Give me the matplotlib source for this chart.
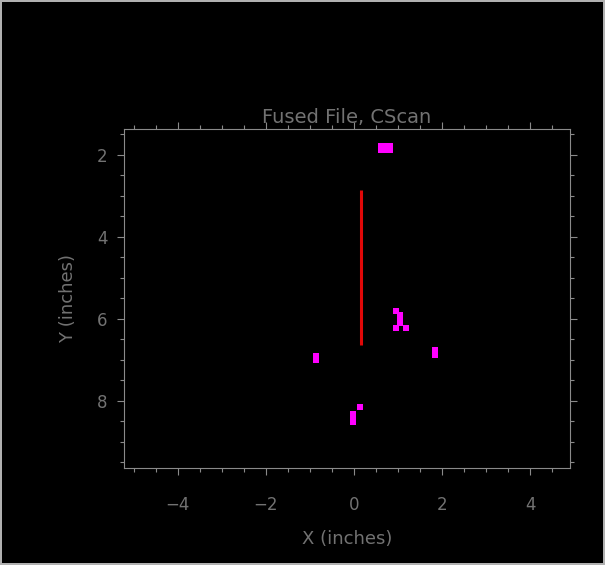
import matplotlib.pyplot as plt
from matplotlib.ticker import MultipleLocator

# C-scan indications (cell centres, inches)
blob_x = [0.62, 0.72, 0.82, 0.62, 0.72, 0.82,
          0.95, 1.05, 1.05, 1.05, 0.95, 1.17,
          -0.87, -0.87,
          1.83, 1.83,
          -0.03, -0.03, -0.03, 0.14]
blob_y = [1.79, 1.79, 1.79, 1.89, 1.89, 1.89,
          5.80, 5.90, 6.00, 6.10, 6.22, 6.22,
          6.90, 7.00,
          6.77, 6.87,
          8.32, 8.42, 8.52, 8.15]

# fused line segment
line_x = [0.15, 0.15]
line_y = [2.85, 6.63]

x_range = [-5.22, 4.9]
y_range = [1.37, 9.63]

fg = '#8a8a8a'
txt = '#727272'

fig = plt.figure(figsize=(6.05, 5.65), dpi=100)
fig.patch.set_facecolor('black')
fig.patch.set_edgecolor('#b0b0b0')
fig.patch.set_linewidth(1.5)

ax = fig.add_axes([0.205, 0.172, 0.737, 0.6])
ax.set_facecolor('black')

ax.plot(line_x, line_y, color='#e00808', lw=2.2, solid_capstyle='butt')
ax.scatter(blob_x, blob_y, marker='s', s=15, color='#ff00ff', linewidths=0)

ax.set_xlim(x_range)
ax.set_ylim(y_range[1], y_range[0])

ax.xaxis.set_major_locator(MultipleLocator(2))
ax.xaxis.set_minor_locator(MultipleLocator(0.5))
ax.yaxis.set_major_locator(MultipleLocator(2))
ax.yaxis.set_minor_locator(MultipleLocator(0.5))

for s in ax.spines.values():
    s.set_color(fg)
    s.set_linewidth(0.8)

ax.tick_params(which='both', direction='out', colors=fg, labelcolor=txt,
               top=True, right=True, labelsize=12, width=0.8)
ax.tick_params(which='major', length=5)
ax.tick_params(which='minor', length=3)
ax.tick_params(axis='x', pad=15)
ax.tick_params(axis='y', pad=7)

ax.set_title('Fused File, CScan', color=txt, fontsize=14, pad=4)
ax.set_xlabel('X (inches)', color=txt, fontsize=13, labelpad=12)
ax.set_ylabel('Y (inches)', color=txt, fontsize=13, labelpad=14)

fig.savefig('out.png', facecolor=fig.get_facecolor(), edgecolor=fig.get_edgecolor())
